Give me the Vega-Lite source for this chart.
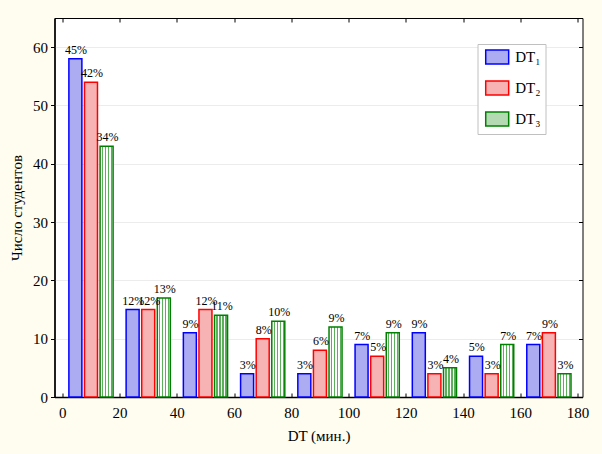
{
  "$schema": "https://vega.github.io/schema/vega-lite/v6.json",
  "width": 528,
  "height": 379,
  "autosize": {"type": "none"},
  "padding": {"left": 54.5, "top": 18, "right": 19.5, "bottom": 57},
  "background": "#fffcf0",
  "data": {
    "values": [
      {"dt": 10, "series": "DT₁", "count": 58, "pct": "45%"},
      {"dt": 10, "series": "DT₂", "count": 54, "pct": "42%"},
      {"dt": 10, "series": "DT₃", "count": 43, "pct": "34%"},
      {"dt": 30, "series": "DT₁", "count": 15, "pct": "12%"},
      {"dt": 30, "series": "DT₂", "count": 15, "pct": "12%"},
      {"dt": 30, "series": "DT₃", "count": 17, "pct": "13%"},
      {"dt": 50, "series": "DT₁", "count": 11, "pct": "9%"},
      {"dt": 50, "series": "DT₂", "count": 15, "pct": "12%"},
      {"dt": 50, "series": "DT₃", "count": 14, "pct": "11%"},
      {"dt": 70, "series": "DT₁", "count": 4, "pct": "3%"},
      {"dt": 70, "series": "DT₂", "count": 10, "pct": "8%"},
      {"dt": 70, "series": "DT₃", "count": 13, "pct": "10%"},
      {"dt": 90, "series": "DT₁", "count": 4, "pct": "3%"},
      {"dt": 90, "series": "DT₂", "count": 8, "pct": "6%"},
      {"dt": 90, "series": "DT₃", "count": 12, "pct": "9%"},
      {"dt": 110, "series": "DT₁", "count": 9, "pct": "7%"},
      {"dt": 110, "series": "DT₂", "count": 7, "pct": "5%"},
      {"dt": 110, "series": "DT₃", "count": 11, "pct": "9%"},
      {"dt": 130, "series": "DT₁", "count": 11, "pct": "9%"},
      {"dt": 130, "series": "DT₂", "count": 4, "pct": "3%"},
      {"dt": 130, "series": "DT₃", "count": 5, "pct": "4%"},
      {"dt": 150, "series": "DT₁", "count": 7, "pct": "5%"},
      {"dt": 150, "series": "DT₂", "count": 4, "pct": "3%"},
      {"dt": 150, "series": "DT₃", "count": 9, "pct": "7%"},
      {"dt": 170, "series": "DT₁", "count": 9, "pct": "7%"},
      {"dt": 170, "series": "DT₂", "count": 11, "pct": "9%"},
      {"dt": 170, "series": "DT₃", "count": 4, "pct": "3%"}
    ]
  },
  "layer": [
    {
      "encoding": {
        "x": {
          "field": "dt",
          "type": "quantitative",
          "scale": {"domain": [-1, 180], "nice": false, "zero": false},
          "axis": {
            "title": "DT (мин.)",
            "values": [0, 20, 40, 60, 80, 100, 120, 140, 160, 180],
            "grid": false,
            "tickSize": -4,
            "labelPadding": 12,
            "titlePadding": 8
          }
        },
        "y": {
          "field": "count",
          "type": "quantitative",
          "stack": null,
          "scale": {"domain": [0, 65], "nice": false},
          "axis": {
            "title": "Число студентов",
            "values": [0, 10, 20, 30, 40, 50, 60],
            "grid": true,
            "tickSize": 4,
            "labelPadding": 3,
            "titleX": -38,
            "titleY": 189.5,
            "titleAngle": 270,
            "titleAlign": "center",
            "titleBaseline": "middle"
          }
        },
        "fill": {
          "field": "series",
          "type": "nominal",
          "scale": {"domain": ["DT₁", "DT₂", "DT₃"], "range": ["#acacf3", "#f7b3b3", "#b4dab4"]},
          "legend": {
            "title": null,
            "encode": {
              "symbols": {
                "update": {
                  "fill": [
                    {
                      "test": "datum.value === 'DT₃'",
                      "value": {
                        "gradient": "linear",
                        "x1": 0, "y1": 0, "x2": 1, "y2": 0,
                        "stops": [
                          {"offset": 0, "color": "#ffffff"},
                          {"offset": 0.08, "color": "#ffffff"},
                          {"offset": 0.08, "color": "#5cb05c"},
                          {"offset": 0.14, "color": "#5cb05c"},
                          {"offset": 0.14, "color": "#ffffff"},
                          {"offset": 0.22, "color": "#ffffff"},
                          {"offset": 0.22, "color": "#5cb05c"},
                          {"offset": 0.28, "color": "#5cb05c"},
                          {"offset": 0.28, "color": "#ffffff"},
                          {"offset": 0.36, "color": "#ffffff"},
                          {"offset": 0.36, "color": "#5cb05c"},
                          {"offset": 0.42, "color": "#5cb05c"},
                          {"offset": 0.42, "color": "#ffffff"},
                          {"offset": 0.5, "color": "#ffffff"},
                          {"offset": 0.5, "color": "#5cb05c"},
                          {"offset": 0.56, "color": "#5cb05c"},
                          {"offset": 0.56, "color": "#ffffff"},
                          {"offset": 0.64, "color": "#ffffff"},
                          {"offset": 0.64, "color": "#5cb05c"},
                          {"offset": 0.7, "color": "#5cb05c"},
                          {"offset": 0.7, "color": "#ffffff"},
                          {"offset": 0.78, "color": "#ffffff"},
                          {"offset": 0.78, "color": "#5cb05c"},
                          {"offset": 0.84, "color": "#5cb05c"},
                          {"offset": 0.84, "color": "#ffffff"},
                          {"offset": 0.92, "color": "#ffffff"},
                          {"offset": 0.92, "color": "#5cb05c"},
                          {"offset": 0.98, "color": "#5cb05c"},
                          {"offset": 0.98, "color": "#ffffff"},
                          {"offset": 1, "color": "#ffffff"}
                        ]
                      }
                    },
                    {"scale": "fill", "field": "value"}
                  ]
                }
              }
            }
          }
        },
        "stroke": {
          "field": "series",
          "type": "nominal",
          "scale": {"domain": ["DT₁", "DT₂", "DT₃"], "range": ["#0000ff", "#ff0000", "#008000"]},
          "legend": {"title": null}
        }
      },
      "layer": [
        {
          "transform": [{"filter": "datum.series === 'DT₁'"}],
          "mark": {"type": "bar", "size": 13, "strokeWidth": 1.5, "xOffset": -15.6}
        },
        {
          "transform": [{"filter": "datum.series === 'DT₂'"}],
          "mark": {"type": "bar", "size": 13, "strokeWidth": 1.5, "xOffset": 0}
        },
        {
          "transform": [{"filter": "datum.series === 'DT₃'"}],
          "mark": {"type": "bar", "size": 13, "strokeWidth": 1.5, "xOffset": 15.6},
          "encoding": {
            "fill": {
              "value": {
                "gradient": "linear",
                "x1": 0, "y1": 0, "x2": 1, "y2": 0,
                "stops": [
                  {"offset": 0, "color": "#ffffff"},
                  {"offset": 0.14, "color": "#ffffff"},
                  {"offset": 0.14, "color": "#5cb05c"},
                  {"offset": 0.24, "color": "#5cb05c"},
                  {"offset": 0.24, "color": "#ffffff"},
                  {"offset": 0.37, "color": "#ffffff"},
                  {"offset": 0.37, "color": "#5cb05c"},
                  {"offset": 0.47, "color": "#5cb05c"},
                  {"offset": 0.47, "color": "#ffffff"},
                  {"offset": 0.6, "color": "#ffffff"},
                  {"offset": 0.6, "color": "#5cb05c"},
                  {"offset": 0.7, "color": "#5cb05c"},
                  {"offset": 0.7, "color": "#ffffff"},
                  {"offset": 0.83, "color": "#ffffff"},
                  {"offset": 0.83, "color": "#5cb05c"},
                  {"offset": 0.93, "color": "#5cb05c"},
                  {"offset": 0.93, "color": "#ffffff"},
                  {"offset": 1, "color": "#ffffff"}
                ]
              }
            }
          }
        },
        {
          "transform": [{"filter": "datum.series === 'DT₁'"}],
          "mark": {"type": "text", "baseline": "bottom", "dy": -2, "dx": -15, "fontSize": 12},
          "encoding": {"text": {"field": "pct", "type": "nominal"}, "fill": {"value": "#000000"}, "stroke": {"value": null}}
        },
        {
          "transform": [{"filter": "datum.series === 'DT₂'"}],
          "mark": {"type": "text", "baseline": "bottom", "dy": -2, "dx": 1, "fontSize": 12},
          "encoding": {"text": {"field": "pct", "type": "nominal"}, "fill": {"value": "#000000"}, "stroke": {"value": null}}
        },
        {
          "transform": [{"filter": "datum.series === 'DT₃'"}],
          "mark": {"type": "text", "baseline": "bottom", "dy": -2, "dx": 16.5, "fontSize": 12},
          "encoding": {"text": {"field": "pct", "type": "nominal"}, "fill": {"value": "#000000"}, "stroke": {"value": null}}
        }
      ]
    },
    {
      "mark": {"type": "text", "text": ""},
      "encoding": {
        "x": {
          "field": "dt",
          "type": "quantitative",
          "axis": {
            "orient": "top",
            "title": null,
            "labels": false,
            "domain": false,
            "grid": false,
            "values": [0, 20, 40, 60, 80, 100, 120, 140, 160, 180],
            "tickSize": -4
          }
        },
        "y": {
          "field": "count",
          "type": "quantitative",
          "axis": {
            "orient": "right",
            "title": null,
            "labels": false,
            "domain": false,
            "grid": false,
            "values": [0, 10, 20, 30, 40, 50, 60],
            "tickSize": -4
          }
        }
      }
    }
  ],
  "resolve": {"axis": {"x": "independent", "y": "independent"}},
  "config": {
    "font": "Liberation Serif",
    "text": {"font": "Liberation Serif"},
    "view": {"fill": "#ffffff", "stroke": "#000000", "strokeWidth": 1},
    "axis": {
      "domainColor": "#000000",
      "domainWidth": 1.5,
      "tickColor": "#000000",
      "labelFont": "Liberation Serif",
      "labelFontSize": 15,
      "labelColor": "#000000",
      "titleFont": "Liberation Serif",
      "titleFontSize": 15,
      "titleFontWeight": "normal",
      "titleColor": "#000000",
      "gridColor": "#ececec",
      "gridWidth": 1
    },
    "legend": {
      "orient": "none",
      "legendX": 423,
      "legendY": 26,
      "padding": 5,
      "strokeColor": "#c0c0c0",
      "fillColor": "#ffffff",
      "symbolType": "M-1.64,-1L1.64,-1L1.64,1L-1.64,1Z",
      "symbolSize": 196,
      "symbolOffset": 6.7,
      "symbolStrokeWidth": 1.5,
      "labelFont": "Liberation Serif",
      "labelFontSize": 15,
      "labelColor": "#000000",
      "labelOffset": 10,
      "rowPadding": 11
    }
  }
}
